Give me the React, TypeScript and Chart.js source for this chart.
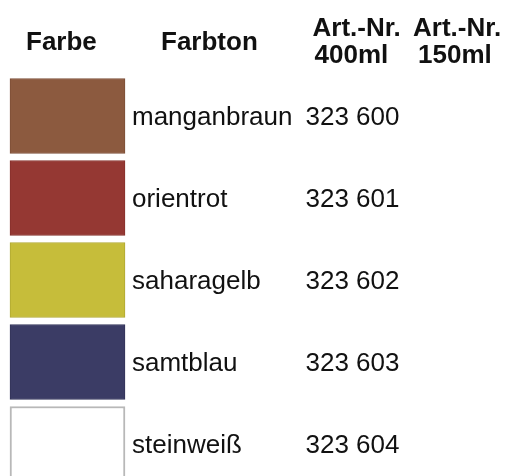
import React, { useEffect, useRef } from "react";
import { Chart, registerables } from "chart.js";

Chart.register(...registerables);

const colorNames = ["manganbraun", "orientrot", "saharagelb", "samtblau", "steinweiß"];
const artNr400 = ["323 600", "323 601", "323 602", "323 603", "323 604"];
const artNr150 = ["", "", "", "", ""];
const swatchColors = ["#8c5a3f", "#953833", "#c6bd3a", "#3b3c65", "#ffffff"];
const swatchBorders = ["#7d4f37", "#86302c", "#b0a832", "#333459", "#b8b8b8"];
const headerTexts = ["Farbe", "Farbton", "Art.-Nr.", "400ml", "Art.-Nr.", "150ml"];

export default function App() {
  const ref = useRef<HTMLCanvasElement | null>(null);
  useEffect(() => {
    document.body.style.margin = "0";
    document.body.style.overflow = "hidden";
    const canvas = ref.current!;
    const textPlugin = {
      id: "tableText",
      afterDatasetsDraw(chart: any) {
        const ctx = chart.ctx as CanvasRenderingContext2D;
        const x = chart.scales.x;
        const y = chart.scales.y;
        ctx.save();
        ctx.fillStyle = "#111";
        ctx.textBaseline = "alphabetic";
        ctx.textAlign = "left";
        // headers
        ctx.font = "bold 26px 'Liberation Sans', Arial, sans-serif";
        const hPos: [number, number][] = [
          [26, 49.5],
          [161, 49.5],
          [312.5, 36],
          [314.5, 62.5],
          [413, 36],
          [418, 62.5],
        ];
        headerTexts.forEach((h, i) => {
          ctx.fillText(h, hPos[i][0], hPos[i][1]);
        });
        // body
        ctx.font = "26px 'Liberation Sans', Arial, sans-serif";
        colorNames.forEach((n, i) => {
          const py = y.getPixelForValue(i) + 8.5;
          ctx.fillText(n, x.getPixelForValue(132), py);
          ctx.fillText(artNr400[i], x.getPixelForValue(305.5), py);
          ctx.fillText(artNr150[i], x.getPixelForValue(418), py);
        });
        ctx.restore();
      },
    };
    const chart = new Chart(canvas, {
      type: "bar",
      data: {
        labels: colorNames,
        datasets: [
          {
            data: colorNames.map(() => [10, 125]) as any,
            backgroundColor: swatchColors,
            borderColor: swatchBorders,
            borderWidth: [1, 1, 1, 1, 2],
            borderSkipped: false,
            barThickness: 75,
          },
        ],
      },
      options: {
        indexAxis: "y",
        animation: false,
        responsive: false,
        maintainAspectRatio: false,
        layout: { padding: { top: 75, bottom: 5, left: 0, right: 0 } },
        plugins: { legend: { display: false }, tooltip: { enabled: false } },
        scales: {
          x: { type: "linear", min: 0, max: 506, display: false },
          y: { type: "category", display: false },
        },
      },
      plugins: [textPlugin],
    });
    return () => chart.destroy();
  }, []);
  return (
    <div style={{ position: "absolute", left: 0, top: 0, width: 506, height: 476, overflow: "hidden", background: "#fff" }}>
      <canvas ref={ref} width={506} height={490} style={{ display: "block" }} />
    </div>
  );
}
